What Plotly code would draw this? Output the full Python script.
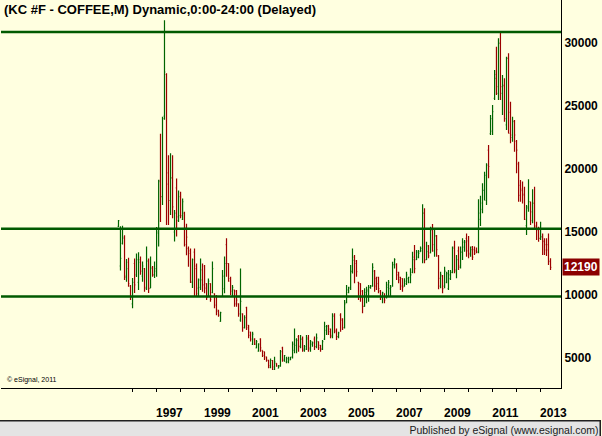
import pandas as pd
import plotly.graph_objects as go

# ---------------- data (monthly KC #F, values in price*100) ----------------
dates = pd.date_range("1995-06-01", periods=217, freq="MS")

opens = [15450,12300,14100,14500,11400,12600,10700,9300,12500,11600,11000,12800,11500,12100,10500,12700,10550,12200,11600,
         11900,14900,19100,17800,24200,27500,19700,17500,19300,15000,18500,15900,
         17800,16000,16500,15300,13700,13500,11000,13400,12300,10100,10600,12000,
         12300,10900,9900,10900,10200,10100,9900,8800,7900,9900,10500,14000,
         12500,11300,9900,10400,10300,9300,8000,8500,7400,9000,7600,7050,
         6100,6500,5800,5550,6500,5600,5500,5100,4840,4250,4800,4100,
         4570,4200,4350,5800,4800,4700,4700,4850,5100,5600,6000,6700,
         5950,6500,5600,5700,6600,5700,6100,6500,5900,6300,6000,5700,
         6500,7200,7600,7300,6700,8400,7200,6700,8400,8100,7400,9400,
         10200,10600,11900,13000,12700,11000,10900,10300,9100,10000,10300,10600,
         10700,11900,11300,11400,10300,9800,10100,9800,10600,10500,10700,12400,
         12400,11800,11400,11300,10700,10900,11300,11000,11800,13000,12800,13000,
         13450,13500,16500,12800,13900,13350,15300,13500,14700,13100,10700,11500,
         10700,11000,10500,11300,11800,13800,11900,13500,12200,13400,13800,14500,
         14300,13200,13800,13600,13500,13400,16000,16800,18300,17500,21500,22800,
         23000,25600,27500,26000,30000,26000,26600,23500,28800,24500,22500,23800,
         22200,20400,18700,18400,18000,15500,16900,17400,15900,17300,15500,15200,
         14500,14600,14300,14000,14000,12700]
highs = [15950,15450,15500,14750,12850,12950,10800,11350,12900,13300,13400,13050,12650,12150,13850,12900,13050,12300,12650,
         15400,19150,22800,24150,31800,27600,21100,21250,21100,16750,19250,18300,
         18200,17650,16600,15650,13850,13700,12900,13700,12500,11300,12900,12500,
         12380,10930,11300,10930,12650,10130,10000,8810,8680,11980,13050,14500,
         12510,11450,10800,10400,10400,9340,12100,8550,8400,9070,7620,7090,
         7090,6560,6430,6170,6560,5600,5500,5100,4840,4970,4840,5100,
         4580,4440,5630,5900,5240,5100,5100,5100,6300,7350,6560,6830,
         6830,6700,6030,6830,6830,6430,6300,6700,6950,6300,6030,6430,
         7880,7620,7620,7350,8550,8550,7350,7090,8550,8150,9600,10800,
         10660,12380,13700,13170,12780,11060,10930,10400,10530,10660,10790,10800,
         12510,11980,11450,11450,10400,10260,10130,11050,11190,10800,12640,12910,
         12510,11850,11450,11320,11320,11850,11450,12120,13440,13970,13570,13570,
         13840,17200,16880,14230,13970,15420,15630,15160,14760,13170,11850,11590,
         12250,11850,11980,11980,13840,14310,13170,13840,13840,14500,14370,14890,
         14680,13840,13890,13840,13760,17590,17880,18860,19790,20450,21900,24285,
         25080,27860,29710,30370,30900,27460,27200,28910,29180,25340,24150,23890,
         22300,20580,19130,19000,18600,17140,19180,17410,18390,18600,15820,15420,
         15820,14890,14500,14500,14890,12910]
lows = [15400,11950,14000,11200,11050,10650,9600,8950,10150,11430,10400,11600,11050,10250,10400,10150,10550,11450,11350,
        11450,13850,15800,17150,23900,15550,15550,16350,16100,14250,14650,15800,
        16100,15950,13850,13150,12250,10950,10550,9870,9870,9870,10400,10260,
        10130,9600,9870,9470,10130,8940,8400,8280,7880,9870,10130,11450,
        11060,10000,9870,9070,9070,8280,7880,7090,7350,7220,6560,6300,
        6030,6030,5770,5500,5500,5080,4840,4710,4180,4180,4050,4050,
        4300,4180,4310,4700,4710,4580,4580,4840,4970,5370,5370,5500,
        5770,5500,5500,5640,5500,5500,5900,5640,5770,5640,5500,5640,
        6430,6830,6830,6560,6560,6960,6430,6560,7090,7220,7350,9340,
        10130,10400,11700,10930,11450,9600,9470,8550,9070,9340,9470,10500,
        10660,10260,10400,10130,9600,9340,9340,9730,9870,9870,10660,12110,
        11190,10930,10400,10260,10660,10790,10930,10930,11720,11720,12780,12910,
        13440,12510,12510,12780,12910,13310,13440,13040,13040,10450,10530,10130,
        10530,10930,10400,11190,11720,11720,11320,11980,12110,12780,13440,13040,
        12910,13040,12780,13170,13310,13310,15470,16480,17500,17140,19260,22700,
        22700,25480,25870,25480,25480,24285,23760,23100,22830,22040,22170,21375,
        19660,17410,17410,17270,15950,14760,16610,15560,15690,15290,14370,14230,
        14370,13170,13170,13100,12380,11980]
closes = [15900,12900,14600,11500,12100,10900,9800,11000,10800,12800,12600,11900,12300,10600,12700,10500,12100,11600,12100,
          15000,19000,17800,24000,27700,18800,17500,19300,17000,16500,16200,16300,
          16300,17400,14000,14600,13300,11050,12800,12100,10550,11200,11200,10800,
          10550,9800,11100,9650,12100,9200,8700,8400,8600,11500,12500,12500,
          11100,10300,10600,9300,9600,8500,9500,7400,8200,7400,6800,6500,
          6900,6100,6300,6100,5800,5200,5000,4800,4400,4800,4300,4700,
          4350,4400,5500,4900,5200,4950,5000,5050,6100,6450,6400,5900,
          6500,5700,5900,6500,5800,6300,6200,5900,6600,5800,5700,6300,
          7500,7500,7100,6800,8300,7100,6700,7000,8000,7400,9300,10400,
          10550,11850,12750,12500,11850,9800,9800,9100,10200,10400,10600,10700,
          12200,10700,10900,10500,9800,10200,9600,10800,11000,10600,12400,12800,
          11600,11200,10700,10600,11100,11600,11400,11600,12800,12100,13400,13300,
          13700,16500,12780,13440,13100,15150,14000,14700,13600,11320,11600,10500,
          11900,11700,11600,11800,13700,12000,12800,12300,13400,14200,14200,13500,
          13300,13600,13000,13300,13400,16500,17300,18300,19500,20300,20200,24000,
          24550,27200,26530,29970,26530,26660,24000,28780,22830,22700,23750,22700,
          21500,17900,18280,17930,16000,17000,17400,16600,17270,15420,15160,14500,
          14630,14230,13570,13570,12650,12190]

level_lines = [30875, 15260, 9880]
last_value = 12190
year_labels = ["1997", "1999", "2001", "2003", "2005", "2007", "2009", "2011", "2013"]
y_ticks = [5000, 10000, 15000, 20000, 25000, 30000]

title_text = "(KC #F - COFFEE,M) Dynamic,0:00-24:00 (Delayed)"
status_text = "Published by eSignal (www.esignal.com)"

# ---------------- styling ----------------
BG = "#FFFFE0"
GREEN = "#006400"
RED = "#9B0000"
LINE_GREEN = "#005A00"
FONT = "Liberation Sans"

# axis geometry: 2 px per month, Jan-1997 at 155.6 px into a 560 px plot
day_px = 24.0 / 365.25
x0 = pd.Timestamp("1997-01-01") - pd.Timedelta(days=155.6 / day_px)
x1 = pd.Timestamp("1997-01-01") + pd.Timedelta(days=404.4 / day_px)
y_range = [2619, 33413]

fig = go.Figure()
fig.add_trace(go.Ohlc(
    x=dates, open=opens, high=highs, low=lows, close=closes,
    increasing=dict(line=dict(color=GREEN, width=1.2)),
    decreasing=dict(line=dict(color=RED, width=1.2)),
    tickwidth=0.45, showlegend=False, hoverinfo="skip",
))

for v in level_lines:
    fig.add_shape(type="line", xref="paper", x0=0, x1=1, yref="y", y0=v, y1=v,
                  line=dict(color=LINE_GREEN, width=2.5), layer="above")

# status bar: grey box whose only visible border is its top edge
fig.add_annotation(text=status_text, xref="paper", yref="paper", x=1.0723, y=-0.0825,
                   xanchor="right", yanchor="top", showarrow=False, align="right",
                   width=620, height=14, bgcolor="#E4E4E4", bordercolor="#202020",
                   borderwidth=1.5, borderpad=1,
                   font=dict(family=FONT, size=10.5, color="#202020"))

fig.add_annotation(text=title_text, xref="paper", yref="paper", x=0.002, y=0.999,
                   xanchor="left", yanchor="top", showarrow=False,
                   font=dict(family=FONT, size=13, color="black", weight="bold"))

fig.add_annotation(text="© eSignal, 2011", xref="paper", yref="paper", x=0.007, y=0.02,
                   xanchor="left", yanchor="middle", showarrow=False,
                   font=dict(family=FONT, size=7, color="black"))

fig.add_annotation(text=f"<b>{last_value}</b>", xref="paper", yref="y", x=1.002, y=last_value,
                   xanchor="left", yanchor="middle", showarrow=False,
                   bgcolor="#8B0000", borderpad=1,
                   font=dict(family=FONT, size=12, color="white"))

fig.update_layout(
    width=602, height=436,
    margin=dict(l=1, r=41, t=0, b=48),
    paper_bgcolor=BG, plot_bgcolor=BG,
    xaxis=dict(
        type="date", range=[x0, x1], rangeslider=dict(visible=False),
        showgrid=False, zeroline=False,
        showline=True, linecolor="black", linewidth=1,
        tickmode="array", tickvals=[f"{y}-07-15" for y in year_labels], ticktext=year_labels,
        ticks="", ticklabelstandoff=14,
        tickfont=dict(family=FONT, size=12, color="black", weight="bold"),
        minor=dict(tickmode="array", tickvals=[f"{y}-01-01" for y in range(1996, 2014)],
                   ticks="outside", ticklen=3, tickcolor="black", showgrid=False),
    ),
    yaxis=dict(
        side="right", range=y_range, showgrid=False, zeroline=False,
        showline=True, linecolor="black", linewidth=1,
        tickmode="array", tickvals=y_ticks, ticktext=[str(t) for t in y_ticks],
        ticks="", tickfont=dict(family=FONT, size=12, color="black", weight="bold"),
    ),
    yaxis2=dict(
        overlaying="y", side="left", range=y_range, showgrid=False, zeroline=False,
        showline=True, linecolor="#404040", linewidth=1.5,
        showticklabels=False, ticks="",
    ),
)

fig.write_html("out.html")
